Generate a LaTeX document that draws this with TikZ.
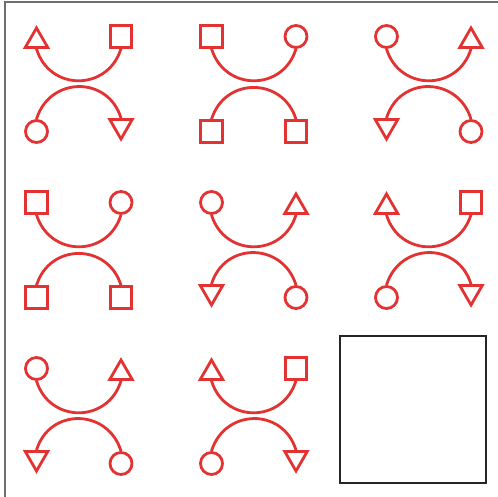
\documentclass[tikz,border=0pt]{standalone}
\usepackage{amsfonts, amsthm, amsmath}
\usepackage{tikz}
\usetikzlibrary{shapes.geometric}
\definecolor{symred}{RGB}{226,50,50}
\definecolor{framegray}{RGB}{110,110,110}

\tikzset{
  sym/.style={draw=symred, line width=2.8pt, inner sep=0pt},
  tup/.style={sym, regular polygon, regular polygon sides=3, minimum size=26pt},
  tdown/.style={tup, shape border rotate=180},
  sq/.style={sym, rectangle, minimum size=21.5pt},
  circ/.style={sym, circle, minimum size=22pt},
  link/.style={draw=symred, line width=2.8pt},
}

\begin{document}
\begin{tikzpicture}[x=1pt,y=1pt]
\useasboundingbox (0,0) rectangle (498,497);
%% frame
\draw[framegray, line width=1.5pt] (5,0) -- (5,495) -- (498,495);

%% cell 1
\node[tup] (a1) at (36.5,456) {};
\node[sq] (b1) at (121,460.5) {};
\node[circ] (c1) at (36.5,365.5) {};
\node[tdown] (d1) at (121,371) {};
\draw[link] (a1.south) to[out=-73,in=-107,looseness=1.35] (b1.south);
\draw[link] (c1.north) to[out=73,in=107,looseness=1.35] (d1.north);

%% cell 2
\node[sq] (a2) at (211.5,460.5) {};
\node[circ] (b2) at (296,460.5) {};
\node[sq] (c2) at (211.5,365.5) {};
\node[sq] (d2) at (296,365.5) {};
\draw[link] (a2.south) to[out=-73,in=-107,looseness=1.35] (b2.south);
\draw[link] (c2.north) to[out=73,in=107,looseness=1.35] (d2.north);

%% cell 3
\node[circ] (a3) at (386.5,460.5) {};
\node[tup] (b3) at (471,456) {};
\node[tdown] (c3) at (386.5,371) {};
\node[circ] (d3) at (471,365.5) {};
\draw[link] (a3.south) to[out=-73,in=-107,looseness=1.35] (b3.south);
\draw[link] (c3.north) to[out=73,in=107,looseness=1.35] (d3.north);

%% cell 4
\node[sq] (a4) at (36.5,294.5) {};
\node[circ] (b4) at (121,294.5) {};
\node[sq] (c4) at (36.5,199.5) {};
\node[sq] (d4) at (121,199.5) {};
\draw[link] (a4.south) to[out=-73,in=-107,looseness=1.35] (b4.south);
\draw[link] (c4.north) to[out=73,in=107,looseness=1.35] (d4.north);

%% cell 5
\node[circ] (a5) at (211.5,294.5) {};
\node[tup] (b5) at (296,290) {};
\node[tdown] (c5) at (211.5,205) {};
\node[circ] (d5) at (296,199.5) {};
\draw[link] (a5.south) to[out=-73,in=-107,looseness=1.35] (b5.south);
\draw[link] (c5.north) to[out=73,in=107,looseness=1.35] (d5.north);

%% cell 6
\node[tup] (a6) at (386.5,290) {};
\node[sq] (b6) at (471,294.5) {};
\node[circ] (c6) at (386.5,199.5) {};
\node[tdown] (d6) at (471,205) {};
\draw[link] (a6.south) to[out=-73,in=-107,looseness=1.35] (b6.south);
\draw[link] (c6.north) to[out=73,in=107,looseness=1.35] (d6.north);

%% cell 7
\node[circ] (a7) at (36.5,128.5) {};
\node[tup] (b7) at (121,124) {};
\node[tdown] (c7) at (36.5,39) {};
\node[circ] (d7) at (121,33.5) {};
\draw[link] (a7.south) to[out=-73,in=-107,looseness=1.35] (b7.south);
\draw[link] (c7.north) to[out=73,in=107,looseness=1.35] (d7.north);

%% cell 8
\node[tup] (a8) at (211.5,124) {};
\node[sq] (b8) at (296,128.5) {};
\node[circ] (c8) at (211.5,33.5) {};
\node[tdown] (d8) at (296,39) {};
\draw[link] (a8.south) to[out=-73,in=-107,looseness=1.35] (b8.south);
\draw[link] (c8.north) to[out=73,in=107,looseness=1.35] (d8.north);

%% empty box
\draw[black!85, line width=1.2pt] (340,14) rectangle (486,161);
\end{tikzpicture}
\end{document}
